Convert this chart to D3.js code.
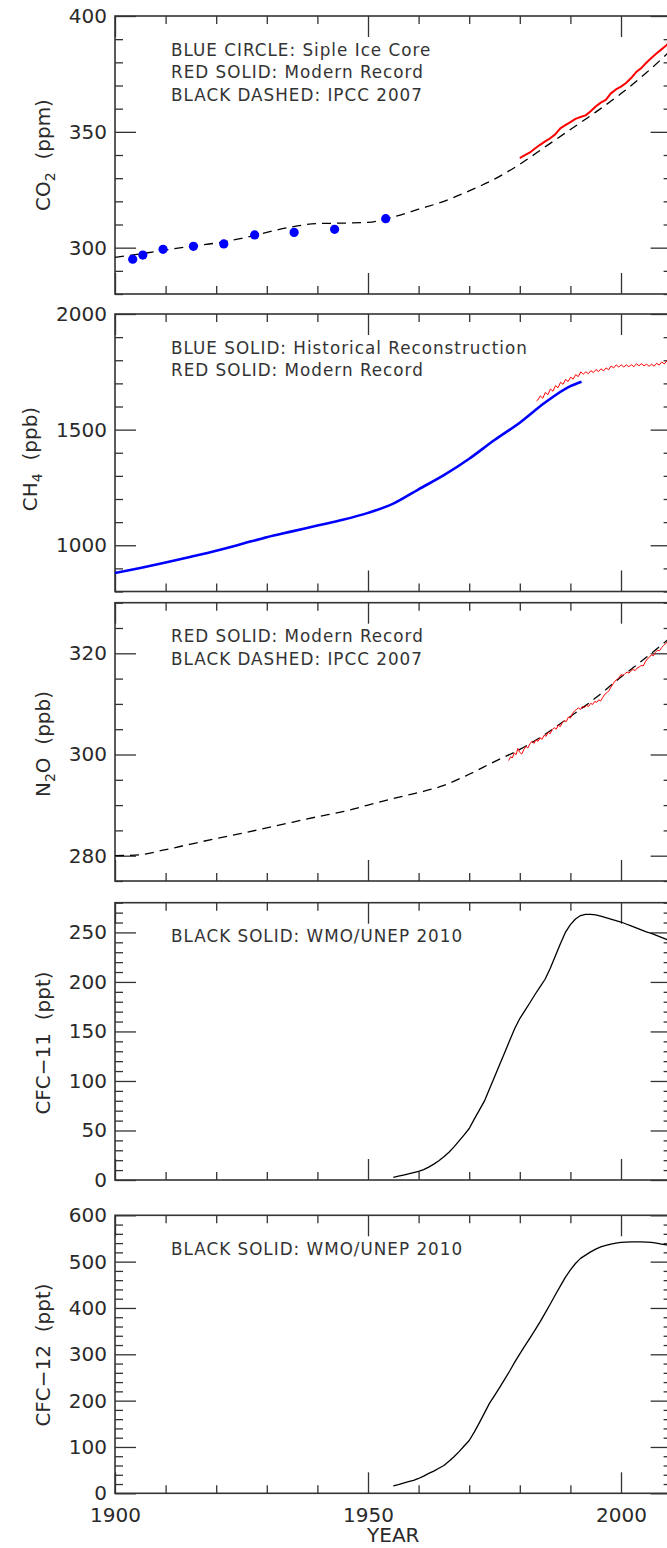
<!DOCTYPE html>
<html>
<head>
<meta charset="utf-8">
<script src="https://cdn.jsdelivr.net/npm/d3@7"></script>
<style>
  body { margin: 0; background: #fff; }
  svg { display: block; font-family: "DejaVu Sans", sans-serif; }
</style>
</head>
<body>
<svg id="chart" width="667" height="1548"></svg>
<script>
/* Values. Years on x, concentrations on y. */
const co2SipleYears = [1903.5, 1905.5, 1909.5, 1915.5, 1921.5, 1927.6, 1935.4, 1943.4, 1953.5];
const co2SipleValues = [295.0, 296.8, 299.3, 300.6, 301.6, 305.5, 306.6, 307.9, 312.5];

const co2ModernYears = [1980, 1981, 1982, 1983, 1984, 1985, 1986, 1987, 1988, 1989, 1990, 1991, 1992, 1993, 1994,
    1995, 1996, 1997, 1998, 1999, 2000, 2001, 2002, 2003, 2004, 2005, 2006, 2007, 2008, 2009, 2010];
const co2ModernValues = [338.7, 339.9, 341.1, 342.8, 344.4, 345.9, 347.2, 348.9, 351.5, 352.9, 354.2, 355.6, 356.4, 357.1, 358.9,
    360.9, 362.6, 363.8, 366.6, 368.3, 369.5, 371.1, 373.2, 375.8, 377.5, 379.8, 381.9, 383.8, 385.6, 387.4, 389.9];

const co2IpccYears = [1900, 1905, 1910, 1915, 1920, 1925, 1930, 1935, 1940, 1945, 1950, 1955, 1960, 1965, 1970, 1975,
    1980, 1985, 1990, 1995, 2000, 2005, 2010];
const co2IpccValues = [295.8, 297.3, 299.0, 300.6, 302.0, 304.0, 306.6, 309.0, 310.4, 310.6, 310.9, 313.3, 316.6, 320.0, 324.5, 329.6,
    336.0, 343.5, 351.0, 358.5, 366.5, 375.5, 385.5];

const ch4HistYears = [1900, 1905, 1910, 1915, 1920, 1925, 1930, 1935, 1940, 1945, 1950, 1955, 1960, 1965, 1970, 1975,
    1980, 1985, 1990, 1992.2];
const ch4HistValues = [880, 902, 925, 950, 976, 1005, 1035, 1060, 1085, 1110, 1140, 1180, 1242, 1303, 1374, 1455,
    1530, 1617, 1688, 1707];

const ch4ModernYears = [1983.30, 1983.55, 1984.05, 1984.55, 1985.05, 1985.55, 1986.05, 1986.55, 1987.05, 1987.55,
    1988.05, 1988.55, 1989.05, 1989.55, 1990.05, 1990.55, 1991.05, 1991.55, 1992.05, 1992.55, 1993.05, 1993.55,
    1994.05, 1994.55, 1995.05, 1995.55, 1996.05, 1996.55, 1997.05, 1997.55, 1998.05, 1998.55, 1999.05, 1999.55,
    2000.05, 2000.55, 2001.05, 2001.55, 2002.05, 2002.55, 2003.05, 2003.55, 2004.05, 2004.55, 2005.05, 2005.55,
    2006.05, 2006.55, 2007.05, 2007.55, 2008.05, 2008.55, 2009.05, 2009.55, 2010.05];
const ch4ModernValues = [1624, 1628, 1646, 1636, 1661, 1651, 1676, 1666, 1690, 1681,
    1705, 1696, 1717, 1708, 1727, 1718, 1738, 1729, 1750, 1740, 1750, 1742,
    1755, 1747, 1760, 1751, 1763, 1754, 1767, 1759, 1775, 1767, 1780, 1771,
    1780, 1771, 1780, 1772, 1781, 1772, 1785, 1776, 1785, 1776, 1783, 1774,
    1783, 1774, 1787, 1779, 1793, 1784, 1797, 1788, 1801];

const n2oModernYears = [1977.8, 1978.2, 1978.5, 1978.9, 1979.3, 1979.6, 1980.0, 1980.4, 1980.8, 1981.2, 1981.6, 1982.0,
    1982.4, 1982.8, 1983.2, 1983.6, 1984.0, 1984.4, 1984.8, 1985.2, 1985.6, 1986.0, 1986.4, 1986.8, 1987.2, 1987.6,
    1988.0, 1988.4, 1988.8, 1989.2, 1989.6, 1990.0, 1990.4, 1990.8, 1991.2, 1991.6, 1992.0, 1992.4, 1992.8, 1993.2,
    1993.6, 1994.0, 1994.4, 1994.8, 1995.2, 1995.6, 1996.0, 1996.4, 1996.8, 1997.2, 1997.6, 1998.0, 1998.4, 1998.8,
    1999.2, 1999.6, 2000.0, 2000.4, 2000.8, 2001.2, 2001.6, 2002.0, 2002.4, 2002.8, 2003.2, 2003.6, 2004.0, 2004.4,
    2004.8, 2005.2, 2005.6, 2006.0, 2006.4, 2006.8, 2007.2, 2007.6, 2008.0, 2008.4, 2008.8, 2009.2, 2009.6, 2010.0];
const n2oModernValues = [298.8, 299.6, 299.3, 300.3, 300.0, 301.2, 300.4, 300.1, 301.0, 301.6, 301.3, 302.1,
    302.6, 302.2, 302.9, 302.6, 303.3, 303.0, 303.8, 303.6, 304.4, 304.1, 304.9, 305.3, 305.0, 305.8,
    305.5, 306.3, 306.7, 306.5, 307.4, 307.2, 308.1, 308.6, 308.9, 309.2, 308.9, 309.5, 309.3, 309.7,
    309.5, 310.1, 309.9, 310.5, 310.3, 310.8, 310.6, 311.3, 311.9, 312.2, 312.6, 313.3, 313.9, 314.5,
    314.8, 315.2, 315.8, 315.6, 316.0, 316.3, 316.1, 316.6, 316.8, 316.6, 317.1, 317.3, 317.6, 317.5,
    318.3, 318.9, 319.2, 319.7, 319.5, 320.2, 320.6, 320.5, 321.1, 321.5, 321.9, 322.3, 322.6, 323.0];

const n2oIpccYears = [1900, 1905, 1910, 1915, 1920, 1925, 1930, 1935, 1940, 1945, 1950, 1955, 1960, 1965, 1970, 1975,
    1980, 1985, 1990, 1995, 2000, 2005, 2010];
const n2oIpccValues = [280.0, 280.2, 281.2, 282.3, 283.4, 284.4, 285.5, 286.6, 287.7, 288.7, 290.0, 291.3, 292.5, 293.9,
    296.1, 298.6, 301.0, 304.0, 307.5, 311.2, 315.3, 319.2, 323.3];

const cfc11Years = [1955, 1956, 1957, 1958, 1959, 1960, 1961, 1962, 1963, 1964, 1965, 1966, 1967, 1968, 1969, 1970,
    1971, 1972, 1973, 1974, 1975, 1976, 1977, 1978, 1979, 1980, 1981, 1982, 1983, 1984, 1985, 1986, 1987, 1988,
    1989, 1990, 1991, 1992, 1993, 1994, 1995, 1996, 1997, 1998, 1999, 2000, 2001, 2002, 2003, 2004, 2005, 2006,
    2007, 2008, 2009, 2010];
const cfc11Values = [2.7, 3.8, 5.0, 6.2, 7.4, 8.6, 10.5, 13, 16, 19.5, 23.5, 28, 33.5, 39.5, 45.5, 52,
    61.5, 70.5, 79.6, 91.8, 104, 116.3, 128.6, 140.9, 153, 163, 171, 179, 187.3, 195, 202.7, 213.6, 226, 238.3,
    250, 257.8, 263.5, 267, 268.3, 268.3, 267.6, 266.5, 265, 263.5, 262, 260.5, 258.5, 256.5, 254.5, 252.5, 250.5, 249,
    247, 245, 243, 241];

const cfc12Years = cfc11Years;
const cfc12Values = [16, 18.5, 22, 25, 28, 32, 37, 43, 48, 54, 60, 69, 79, 90, 102, 114,
    132, 152, 173, 194, 211, 228, 246, 264, 283, 301, 318, 335, 352, 370, 389, 408, 428, 447,
    466, 482, 496, 507, 514, 521, 527, 532, 535, 538, 540, 541.5, 542, 542.5, 542.5, 542.5, 542, 541.5,
    540, 538, 536, 534];

const xMajorTicks = [1900, 1950, 2000];
const xMinorTicks = [1910, 1920, 1930, 1940, 1960, 1970, 1980, 1990];

/* zip helper: years + values into point objects */
function pts(years, values) {
    return years.map((yr, i) => ({ x: yr, y: values[i] }));
}

const svg = d3.select("#chart");
const left = 115, right = 671.6;
const xScale = d3.scaleLinear().domain([1900, 2010]).range([left, right]);

/* panel layout, top to bottom */
const panels = [
    {
        top: 16, bottom: 294, domain: [280, 400], majors: [300, 350, 400], minorStep: 10,
        title: ["CO", "2", "\u00a0\u00a0(ppm)"], titleX: 50, titleY: 155,
        legend: ["BLUE CIRCLE: Siple Ice Core", "RED SOLID: Modern Record", "BLACK DASHED: IPCC 2007"],
        series: [
            { data: pts(co2IpccYears, co2IpccValues), color: "#000", width: 1.3, dash: "9,6", smooth: true },
            { data: pts(co2ModernYears, co2ModernValues), color: "#ff0000", width: 2 }
        ],
        dots: pts(co2SipleYears, co2SipleValues)
    },
    {
        top: 314, bottom: 591.5, domain: [800, 2000], majors: [1000, 1500, 2000], minorStep: 100,
        title: ["CH", "4", "\u00a0\u00a0(ppb)"], titleX: 36.5, titleY: 459,
        legend: ["BLUE SOLID: Historical Reconstruction", "RED SOLID: Modern Record"],
        series: [
            { data: pts(ch4HistYears, ch4HistValues), color: "#0000ff", width: 2.6, smooth: true },
            { data: pts(ch4ModernYears, ch4ModernValues), color: "#ff0000", width: 1 }
        ]
    },
    {
        top: 602.7, bottom: 881, domain: [275, 330], majors: [280, 300, 320], minorStep: 5,
        title: ["N", "2", "O\u00a0\u00a0(ppb)"], titleX: 50, titleY: 744,
        legend: ["RED SOLID: Modern Record", "BLACK DASHED: IPCC 2007"],
        series: [
            { data: pts(n2oIpccYears, n2oIpccValues), color: "#000", width: 1.3, dash: "9,6", smooth: true },
            { data: pts(n2oModernYears, n2oModernValues), color: "#ff0000", width: 1 }
        ]
    },
    {
        top: 902.7, bottom: 1180, domain: [0, 280], majors: [0, 50, 100, 150, 200, 250], minorStep: 10,
        title: ["CFC\u221211\u00a0\u00a0(ppt)"], titleX: 50, titleY: 1043,
        legend: ["BLACK SOLID: WMO/UNEP 2010"],
        series: [
            { data: pts(cfc11Years, cfc11Values), color: "#000", width: 1.3 }
        ]
    },
    {
        top: 1215.3, bottom: 1493.3, domain: [0, 600], majors: [0, 100, 200, 300, 400, 500, 600], minorStep: 20,
        title: ["CFC\u221212\u00a0\u00a0(ppt)"], titleX: 50, titleY: 1355,
        legend: ["BLACK SOLID: WMO/UNEP 2010"],
        series: [
            { data: pts(cfc12Years, cfc12Values), color: "#000", width: 1.3 }
        ],
        xLabels: true
    }
];

/* one tick set on one side; ticks point into the plot */
function addTicks(g, axisFn, scale, values, size, transform, labels, padding) {
    const axis = axisFn(scale)
        .tickValues(values)
        .tickSizeInner(-size)
        .tickSizeOuter(0)
        .tickPadding(padding || 8)
        .tickFormat(labels ? d3.format("d") : "");
    const sel = g.append("g")
        .attr("transform", transform)
        .style("color", "#333")
        .call(axis);
    // the axis call sets its own font, so override afterwards
    sel.attr("font-size", 20).attr("font-family", null);
    sel.select(".domain").remove();
    sel.selectAll("line").attr("stroke-width", 1.3);
    sel.selectAll("text").attr("fill", "#2a2a2a");
}

function drawPanel(p) {
    const yScale = d3.scaleLinear().domain(p.domain).range([p.bottom, p.top]);
    const g = svg.append("g");

    const yMinor = d3.range(p.domain[0], p.domain[1] + 0.001, p.minorStep).filter(v => !p.majors.includes(v));

    addTicks(g, d3.axisLeft, yScale, p.majors, 21, `translate(${left},0)`, true);
    addTicks(g, d3.axisLeft, yScale, yMinor, 8, `translate(${left},0)`, false);
    addTicks(g, d3.axisRight, yScale, p.majors, 21, `translate(${right},0)`, false);
    addTicks(g, d3.axisRight, yScale, yMinor, 8, `translate(${right},0)`, false);
    addTicks(g, d3.axisTop, xScale, xMajorTicks, 21, `translate(0,${p.top})`, false);
    addTicks(g, d3.axisTop, xScale, xMinorTicks, 8, `translate(0,${p.top})`, false);
    addTicks(g, d3.axisBottom, xScale, xMajorTicks, 21, `translate(0,${p.bottom})`, !!p.xLabels, 15);
    addTicks(g, d3.axisBottom, xScale, xMinorTicks, 8, `translate(0,${p.bottom})`, false);

    g.append("rect")
        .attr("x", left)
        .attr("y", p.top)
        .attr("width", right - left)
        .attr("height", p.bottom - p.top)
        .attr("fill", "none")
        .attr("stroke", "#333")
        .attr("stroke-width", 1.6);

    p.series.forEach(s => {
        const line = d3.line()
            .x(d => xScale(d.x))
            .y(d => yScale(d.y))
            .curve(s.smooth ? d3.curveMonotoneX : d3.curveLinear);
        g.append("path")
            .datum(s.data)
            .attr("d", line)
            .attr("fill", "none")
            .attr("stroke", s.color)
            .attr("stroke-width", s.width)
            .attr("stroke-dasharray", s.dash || null)
            .attr("stroke-linejoin", "round");
    });

    if (p.dots) {
        g.selectAll(".dot")
            .data(p.dots)
            .enter().append("circle")
            .attr("class", "dot")
            .attr("cx", d => xScale(d.x))
            .attr("cy", d => yScale(d.y))
            .attr("r", 4.6)
            .attr("fill", "#0000ff");
    }

    p.legend.forEach((txt, i) => {
        g.append("text")
            .attr("x", 171)
            .attr("y", p.top + 39.5 + i * 22.8)
            .attr("font-size", 16.8)
            .attr("letter-spacing", 1)
            .attr("fill", "#333")
            .text(txt);
    });

    // rotated y title, with subscript when there is one
    const title = g.append("text")
        .attr("transform", `translate(${p.titleX},${p.titleY}) rotate(-90)`)
        .attr("text-anchor", "middle")
        .attr("font-size", 20)
        .attr("fill", "#2a2a2a");
    title.append("tspan").text(p.title[0]);
    if (p.title.length > 1) {
        title.append("tspan").attr("dy", 5).attr("font-size", 14).text(p.title[1]);
        title.append("tspan").attr("dy", -5).text(p.title[2]);
    }
}

panels.forEach(drawPanel);

svg.append("text")
    .attr("x", (left + right) / 2)
    .attr("y", 1542)
    .attr("text-anchor", "middle")
    .attr("font-size", 20)
    .attr("fill", "#2a2a2a")
    .text("YEAR");
</script>
</body>
</html>
